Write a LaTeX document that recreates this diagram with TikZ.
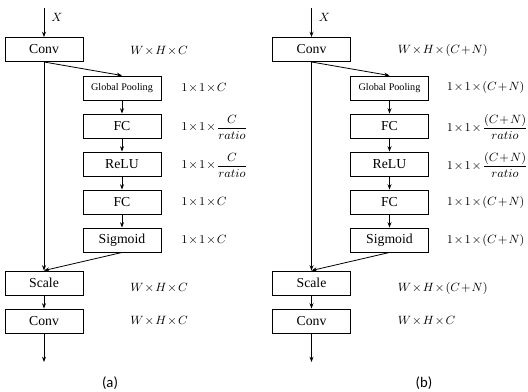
\documentclass[tikz,border=0pt]{standalone}
\usepackage{amsmath}
\usepackage{fontspec}
\setmainfont{Liberation Serif}
\newfontfamily\capfont{Carlito}
\usetikzlibrary{arrows.meta}
\newcommand{\tightmath}{\medmuskip=1.5mu\relax}
\begin{document}
\begin{tikzpicture}[x=0.75pt,y=-0.75pt,
  blk/.style={draw,line width=0.7pt,minimum width=58.5pt,minimum height=18pt,inner sep=0pt,font=\fontsize{10.3}{12}\selectfont},
  gpblk/.style={blk,font=\fontsize{7.6}{9}\selectfont},
  lbl/.style={anchor=west,inner sep=0pt,font=\fontsize{9.2}{11}\selectfont\tightmath},
  conn/.style={line width=0.6pt,-{Stealth[length=4pt,width=3pt]}},
  subcap/.style={font=\capfont\fontsize{11}{13}\selectfont}]
\useasboundingbox (0,0) rectangle (528,392);
% ---------- panel (a)
\node[blk] (aconv1) at (44,49.5) {Conv};
\node[gpblk] (agp) at (122,88) {Global Pooling};
\node[blk] (afc1) at (122,126) {FC};
\node[blk] (arelu) at (122,164) {ReLU};
\node[blk] (afc2) at (122,202) {FC};
\node[blk] (asig) at (122,240) {Sigmoid};
\node[blk] (ascale) at (44,283) {Scale};
\node[blk] (aconv2) at (44,321) {Conv};
\coordinate (ain) at (44,8);
\coordinate (aout) at (44,362);
\node[lbl] (axl) at (51,17) {$X$};
\draw[conn] (ain) -- (aconv1);
\draw[conn] (aconv1.south) -- (agp.north);
\draw[conn] (agp) -- (afc1);
\draw[conn] (afc1) -- (arelu);
\draw[conn] (arelu) -- (afc2);
\draw[conn] (afc2) -- (asig);
\draw[conn] (aconv1.south) -- (ascale.north);
\draw[conn] (asig.south) -- (ascale.north);
\draw[conn] (ascale) -- (aconv2);
\draw[conn] (aconv2) -- (aout);
\node[lbl] (al1) at (130,51) {$W\times H\times C$};
\node[lbl] (al2) at (181,88) {$1\times1\times C$};
\node[lbl] (al3) at (181,127) {$1\times1\times\dfrac{C}{ratio}$};
\node[lbl] (al4) at (181,165) {$1\times1\times\dfrac{C}{ratio}$};
\node[lbl] (al5) at (181,202) {$1\times1\times C$};
\node[lbl] (al6) at (181,240) {$1\times1\times C$};
\node[lbl] (al7) at (130,288) {$W\times H\times C$};
\node[lbl] (al8) at (130,321) {$W\times H\times C$};
\node[subcap] (acap) at (110,383) {(a)};
% ---------- panel (b)
\begin{scope}[shift={(267.5,0)}]
\node[blk] (bconv1) at (44,49.5) {Conv};
\node[gpblk] (bgp) at (122,88) {Global Pooling};
\node[blk] (bfc1) at (122,126) {FC};
\node[blk] (brelu) at (122,164) {ReLU};
\node[blk] (bfc2) at (122,202) {FC};
\node[blk] (bsig) at (122,240) {Sigmoid};
\node[blk] (bscale) at (44,283) {Scale};
\node[blk] (bconv2) at (44,321) {Conv};
\coordinate (bin) at (44,8);
\coordinate (bout) at (44,362);
\node[lbl] (bxl) at (51,17) {$X$};
\draw[conn] (bin) -- (bconv1);
\draw[conn] (bconv1.south) -- (bgp.north);
\draw[conn] (bgp) -- (bfc1);
\draw[conn] (bfc1) -- (brelu);
\draw[conn] (brelu) -- (bfc2);
\draw[conn] (bfc2) -- (bsig);
\draw[conn] (bconv1.south) -- (bscale.north);
\draw[conn] (bsig.south) -- (bscale.north);
\draw[conn] (bscale) -- (bconv2);
\draw[conn] (bconv2) -- (bout);
\node[lbl] (bl1) at (130,51) {$W\times H\times (C+N)$};
\node[lbl] (bl2) at (179,88) {$1\times1\times (C+N)$};
\node[lbl] (bl3) at (179,127) {$1\times1\times\dfrac{(C+N)}{ratio}$};
\node[lbl] (bl4) at (179,165) {$1\times1\times\dfrac{(C+N)}{ratio}$};
\node[lbl] (bl5) at (179,202) {$1\times1\times (C+N)$};
\node[lbl] (bl6) at (179,240) {$1\times1\times (C+N)$};
\node[lbl] (bl7) at (130,288) {$W\times H\times (C+N)$};
\node[lbl] (bl8) at (130,321) {$W\times H\times C$};
\end{scope}
\node[subcap] (bcap) at (424,383) {(b)};
\end{tikzpicture}
\end{document}
